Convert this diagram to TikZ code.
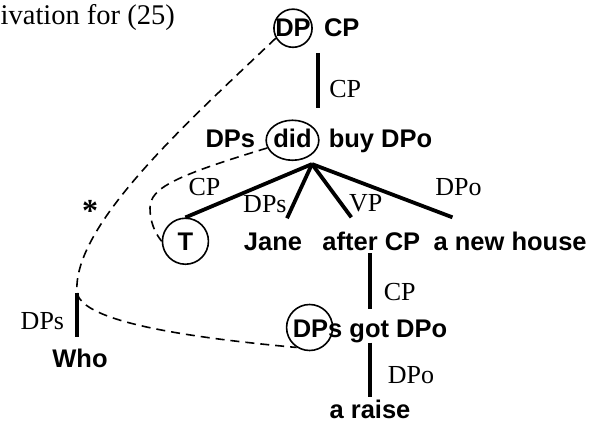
\documentclass[tikz,border=0pt]{standalone}
\usepackage{fontspec}
\setmainfont{Liberation Serif}
\newfontfamily\treefont{Liberation Sans}
\usetikzlibrary{positioning, calc, shapes.geometric}
\tikzset{%
  word/.style={font=\treefont\bfseries\fontsize{25.5}{28}\selectfont, inner sep=0pt},
  tag/.style={font=\fontsize{26}{28}\selectfont, inner sep=0pt},
  ring/.style={circle, draw, line width=1.6pt},
  branch/.style={line width=3.8pt},
  trace/.style={line width=1.6pt, dash pattern=on 9pt off 6pt}
}

\begin{document}
\begin{tikzpicture}[x=1pt, y=-1pt]
		\useasboundingbox (0,0) rectangle (602,428);
		%% title
		\node[tag, font=\fontsize{28.5}{30}\selectfont, anchor=base east] (title) at (175,25) {ivation for (25)};
		%% top
		\node[word, ring, inner sep=-0.5pt, anchor=base] (dp) at (293,37) {DP};
		\node[word, base right=11pt of dp] (cp0) {CP};
		\coordinate (stem0) at ($(dp.base east)!.5!(cp0.base west)$);
		%% did row
		\node[word, ellipse, draw, line width=1.6pt, inner xsep=-0.5pt, inner ysep=0pt, minimum height=40pt, text depth=5pt, anchor=base] (did) at (292.5,147) {did};
		\node[word, base left=10pt of did] (dps0) {DPs};
		\node[word, base right=9pt of did] (buy) {buy DPo};
		\coordinate (br) at ([shift={(19.5pt,-3pt)}]did.south);
		\path[branch] (stem0) edge[shorten <=16pt, shorten >=11pt] node[tag, right=9pt, pos=.63] {CP} (stem0 |- did.north);
		%% daughters
		\node[word, anchor=base] (jane) at (273,250) {Jane};
		\node[word, ring, minimum size=46pt, base left=34.5pt of jane] (t) {T};
		\node[word, base right=20pt of jane] (after) {after CP};
		\node[word, base right=13pt of after] (house) {a new house};
		\path[branch] (br) edge node[tag, pos=.85, above=12pt] {CP} (t.north);
		\path[branch] (br) edge node[tag, pos=.74, left=5pt] {DPs} ([shift={(14pt,14pt)}]jane.north);
		\path[branch] (br) edge node[tag, pos=.74, right=6pt] {VP} ([shift={(-20pt,14pt)}]after.north);
		\path[branch] (br) edge node[tag, pos=1, above=20pt, xshift=6pt] {DPo} ([shift={(19pt,14pt)}]house.north west);
		%% adjunct
		\node[word, anchor=base] (got) at (370,337) {DPs got DPo};
		\node[ring, minimum size=46pt] (dpsring) at ([shift={(17pt,9.5pt)}]got.base west) {};
		\path[branch] (got.north |- after.south) edge[shorten <=3pt, shorten >=10pt] node[tag, right=12pt, pos=.61] {CP} (got.north);
		\node[word, below=57pt of got] (raise) {a raise};
		\path[branch] (got.south) edge[shorten >=3pt] node[tag, right=16pt, pos=.57] {DPo} (raise.north);
		%% who
		\node[word, anchor=base] (who) at (80,367) {Who};
		\coordinate[above=55.7pt of who.north, xshift=-3pt] (whotop);
		\path[branch] (whotop) edge[shorten >=11pt] node[tag, left=11pt, pos=.52] {DPs} (whotop |- who.north);
		\node[tag, font=\bfseries\fontsize{32}{34}\selectfont] (star) at (90,211) {*};
		%% traces
		\draw[trace] (dp.210) .. controls (190,120) and (72,225) .. (whotop) .. controls (82,318) and (160,335) .. (dpsring.237);
		\draw[trace] (did.197) .. controls (175,176) and (150,188) .. (150,208) .. controls (150,222) and (155,233) .. (t.west);
	\end{tikzpicture}
\end{document}
